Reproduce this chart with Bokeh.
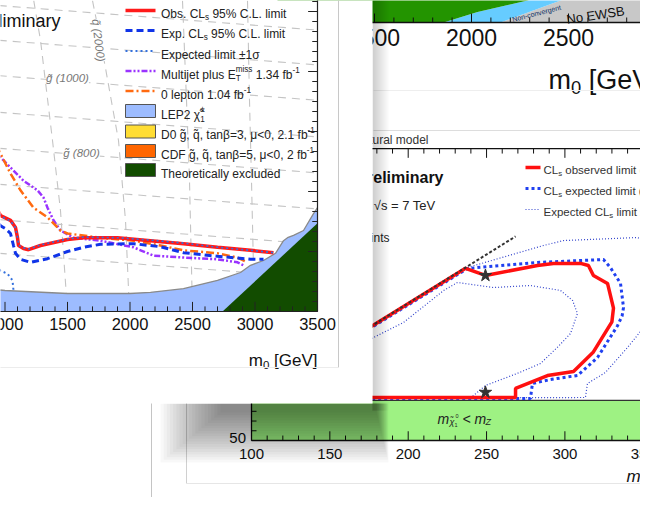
import unicodedata
import numpy as np
from bokeh.plotting import figure
from bokeh.models import Range1d, Label
from bokeh.core.properties import value
from bokeh.embed import file_html
from bokeh.resources import INLINE

FONT = "Liberation Sans"

# ================= DATA =================
# ---- front plot: ATLAS mSUGRA (m0, m1/2) ----
F_xticks = [1000, 1500, 2000, 2500, 3000, 3500]
F_xticklabels = ["1000", "1500", "2000", "2500", "3000", "3500"]
F_obs_m0 = [884, 964, 1044, 1084, 1100, 1108, 1148, 1188, 1284, 1500, 1628, 1900, 2164, 2428, 2700, 2964, 3148]
F_obs_m12 = [293, 260, 252, 240, 223, 210, 205, 203, 210, 220, 223, 223, 218, 213, 207, 202, 198]
F_p1s_m0 = [884, 964, 1044, 1086, 1102, 1110, 1148, 1190, 1284, 1500, 1628, 1900, 2164, 2428, 2700, 2964, 3150]
F_p1s_m12 = [292, 259, 251, 239, 222, 210, 206, 204, 211, 221, 224, 223, 219, 214, 207, 202, 198]
F_m1s_m0 = [900, 964, 1020, 1060, 1068]
F_m1s_m12 = [182, 168, 163, 152, 135]
F_exp_m0 = [900, 964, 1004, 1044, 1068, 1084, 1124, 1204, 1340, 1500, 1628, 1764, 2028, 2244, 2428, 2700, 2964, 3068]
F_exp_m12 = [260, 243, 238, 230, 210, 197, 187, 182, 188, 200, 207, 212, 213, 208, 198, 192, 187, 187]
F_mj_m0 = [884, 964, 1044, 1148, 1260, 1308, 1340, 1388, 1444, 1548, 1764, 2028, 2188, 2428, 2700, 2860, 2908]
F_mj_m12 = [372, 357, 340, 318, 302, 290, 273, 252, 235, 223, 218, 207, 193, 190, 187, 182, 177]
F_0l_m0 = [884, 964, 1044, 1124, 1228, 1340, 1444, 1500, 1764, 2028, 2244, 2428, 2700, 2860, 2940]
F_0l_m12 = [402, 363, 330, 302, 273, 257, 235, 230, 223, 218, 210, 202, 197, 190, 182]
F_lep_m0 = [900, 1000, 1500, 2000, 2164, 2428, 2700, 2884, 2964, 3068, 3164, 3228, 3260, 3308, 3388, 3468, 3500]
F_lep_m12 = [137, 135, 130, 130, 132, 138, 152, 165, 177, 185, 197, 218, 223, 227, 235, 263, 273]
F_th_m0 = [2740, 3500, 3500]
F_th_m12 = [100, 247, 100]
# gluino iso-mass lines (end points)
F_gl_names = ["1200", "1100", "1000", "900", "800", "700", "600", "500"]
F_gl_m0 = [[950, 3500]] * 8
F_gl_m12 = [[610, 569], [552, 511], [493, 452], [432, 391], [372, 331], [312, 271], [253, 212], [197, 156]]
# squark iso-mass lines
F_sq_names = ["1500", "2000", "2500", "3000"]
F_sq_m0 = [[1230, 1284, 1380, 1444, 1500], [1700, 1764, 1908, 1964, 1996], [2420, 2452, 2476, 2500], [2940, 2956, 2972, 2996]]
F_sq_m12 = [[618, 552, 385, 268, 100], [618, 552, 385, 252, 100], [618, 452, 318, 100], [618, 452, 318, 100]]

# ---- top plot (partially visible) ----
T_xticks = [1500, 2000, 2500, 3000]
T_xticklabels = ["1500", "2000", "2500", "3000"]
T_green_m0 = [1856, 2031, 2289, 2400]
T_green_v = [100, 121, 144, 160]
T_blue_m0 = [2149, 2459, 2560]
T_blue_v = [100, 144, 160]

# ---- right plot: natural model ----
R_xticks = [100, 150, 200, 250, 300, 350]
R_xticklabels = ["100", "150", "200", "250", "300", "350"]
R_yticks = [50]
R_yticklabels = ["50"]
R_mZ = 91.2
R_obs_x = [103, 236.6, 249.3, 282.5, 292.7, 310.0, 315.0, 318.2, 327.2, 331.0, 330.0, 318.2, 305.5, 288.9, 268.5, 268.5, 103]
R_obs_y = [94.2, 227.0, 219.6, 229.9, 231.9, 232.0, 229.9, 219.6, 211.4, 186.0, 172.0, 141.0, 121.0, 116.8, 103.5, 94.2, 94.2]
R_exp_x = [103, 237.8, 282.5, 324.6, 329.0, 335.5, 337.4, 336.5, 333.6, 320.8, 308.0, 290.8, 279.3, 278.0, 103]
R_exp_y = [93.2, 226.8, 233.0, 236.0, 227.8, 211.4, 186.7, 178.0, 168.0, 135.3, 116.8, 112.7, 108.6, 93.2, 93.2]
R_up_x = [103, 237.8, 286.3, 299.1, 346.3, 358.5, 368, 372, 368, 358.5, 350.2, 340.0, 325.9, 314.4, 313.1, 103]
R_up_y = [93, 227.8, 250.4, 255.5, 258.6, 250.4, 235, 210, 190, 180.5, 166.0, 145.6, 119.9, 108.6, 94.2, 93]
R_dn_x = [110, 177.9, 197.0, 222.5, 231.5, 254.4, 278.0, 297.2, 304.9, 308.0, 303.6, 296.0, 284.4, 269.7, 249.3, 240.0, 110]
R_dn_y = [94, 155.9, 171.3, 204.0, 212.4, 207.2, 209.3, 204.2, 193.9, 180.5, 160.0, 147.0, 129.1, 119.0, 106.5, 94.0, 94]
R_kin_x = [100, 268.5]
R_kin_y = [91, 259.7]
R_star_x = [249.3, 249.3]
R_star_y = [219.6, 99.5]

# ================= helpers =================
X0, X1, YB, YT = 0, 640, 497, 0   # visible window in reference pixels


def xr(v0, p0, s):
    return Range1d(v0 + (X0 - p0) / s, v0 + (X1 - p0) / s)


def yr(v0, p0, s):
    return Range1d(v0 - (YB - p0) / s, v0 + (p0 - YT) / s)


p = figure(width=640, height=497, x_range=Range1d(X0, X1), y_range=Range1d(YB, YT),
           output_backend="svg", toolbar_location=None, min_border=0, title=None,
           x_axis_location=None, y_axis_location=None)
p.grid.visible = False
p.outline_line_color = None
p.background_fill_color = "white"
p.border_fill_color = "white"

p.extra_x_ranges = {"F": xr(1000, 4.5, 0.125), "T": xr(2000, 471, 0.194), "R": xr(100, 251, 1.567)}
p.extra_y_ranges = {"F": yr(100, 311, 0.6), "T": yr(100, 22, 0.5), "R": yr(50, 440, 0.973)}

W = {}
for c in "0123456789": W[c] = 556
W.update({" ": 278, ".": 278, ",": 278, "(": 333, ")": 333, "-": 333, "%": 889, "=": 584, "<": 584,
          ">": 584, "[": 278, "]": 278, "±": 584, "β": 570, "μ": 576, "σ": 600, "χ": 540, "√": 549})
for c, w in zip("ABCDEFGHIJKLMNOPQRSTUVWXYZ",
                [667, 667, 722, 722, 667, 611, 778, 722, 278, 500, 667, 556, 833, 722, 778, 667, 778, 722, 667, 611, 722, 667, 944, 667, 667, 611]):
    W[c] = w
for c, w in zip("abcdefghijklmnopqrstuvwxyz",
                [556, 556, 500, 556, 556, 278, 556, 556, 222, 222, 500, 222, 833, 556, 556, 556, 556, 333, 500, 278, 556, 500, 722, 500, 500, 500]):
    W[c] = w


def tw(s, size):
    return sum(0 if unicodedata.combining(c) else W.get(c, 556) for c in s) * size / 1000.0


def txt(x, y, s, size, color="#222222", align="left", baseline="alphabetic", style="normal", angle=0, rn="default"):
    p.text(x=[x], y=[y], text=[s], x_range_name=rn, y_range_name=rn, text_font=value(FONT),
           text_font_size=f"{size}px", text_color=color, text_align=align, text_baseline=baseline,
           text_font_style=style, angle=angle)


def piece(x, y, s, size, color, style):
    lead = len(s) - len(s.lstrip(" "))
    x += tw(" " * lead, size)
    body = s.strip(" ")
    if body:
        txt(x, y, body, size, color, style=style)
    return x + tw(s[lead:], size)


def rich(x, yc, parts, size, color="#222222", style="normal"):
    base = yc + 0.33 * size
    for part in parts:
        if isinstance(part, str):
            x = piece(x, base, part, size, color, style)
        else:
            kind = part[0]
            s2 = size * 0.68
            if kind == "sub":
                x = piece(x, base + 0.28 * size, part[1], s2, color, style)
            elif kind == "sup":
                x = piece(x, base - 0.42 * size, part[1], s2, color, style)
            else:  # stacked sup + sub
                xa = piece(x, base - 0.42 * size, part[1], s2, color, style)
                xb = piece(x, base + 0.3 * size, part[2], s2, color, style)
                x = max(xa, xb)
    return x


def hline(x0, x1, y, color, width=1.0):
    p.segment(x0=[x0], y0=[y], x1=[x1], y1=[y], line_color=color, line_width=width)


def vline(x, y0, y1, color, width=1.0):
    p.segment(x0=[x], y0=[y0], x1=[x], y1=[y1], line_color=color, line_width=width)


# ================= TOP PLOT (background) =================
gray_x = [T_blue_m0[0], 3700, 3700] + T_blue_m0[::-1]
gray_y = [T_blue_v[0], T_blue_v[0], T_blue_v[-1]] + T_blue_v[::-1]
p.patch(gray_x, gray_y, x_range_name="T", y_range_name="T", fill_color="#c8c8c8", line_color=None)
blue_x = T_green_m0 + T_blue_m0[::-1]
blue_y = T_green_v + T_blue_v[::-1]
p.patch(blue_x, blue_y, x_range_name="T", y_range_name="T", fill_color="#66ccff", line_color=None)
green_x = [1000] + T_green_m0 + [1000]
green_y = [100] + T_green_v + [160]
p.patch(green_x, green_y, x_range_name="T", y_range_name="T", fill_color="#239400", line_color=None)
txt(512, 19, "Non-convergent", 7, "#113366", angle=0.25)
txt(566, 19, "No EWSB", 13, "#111111", angle=0.15)
p.segment(x0=[1000], y0=[100], x1=[3700], y1=[100], x_range_name="T", y_range_name="T", line_color="#111111", line_width=1.5)
tmin = np.arange(1000, 3700, 100)
tlen = np.where(tmin % 500 == 0, 18, 10)
p.segment(x0=tmin, y0=100, x1=tmin, y1=100 + tlen, x_range_name="T", y_range_name="T", line_color="#111111", line_width=1)
p.text(x=T_xticks, y=[71] * len(T_xticks), text=T_xticklabels, x_range_name="T", y_range_name="T",
       text_font=value(FONT), text_font_size="23px", text_align="center", text_baseline="middle", text_color="#111111")
rich(548, 71, ["m", ("sub", "0"), " [GeV]"], 27, "#111111")
hline(373, 660, 90, "#eeeeee")

# ================= RIGHT PLOT (background) =================
hline(373, 660, 130, "#dddddd")
txt(428, 139, "Simplified natural model", 12, "#333333", align="right", baseline="middle")
vline(151, 95, 520, "#c4c4c4")
vline(186, 140, 483, "#d0d0d0")
hline(186, 660, 483, "#e6e6e6")

p.quad(left=[100], right=[420], bottom=[50], top=[R_mZ], x_range_name="R", y_range_name="R",
       fill_color="#9ef283", line_color=None)
p.segment(x0=[100], y0=[R_mZ], x1=[420], y1=[R_mZ], x_range_name="R", y_range_name="R", line_color="#333333", line_width=1.2)
txt(437, 418, "m", 14, "#222222", style="italic")
txt(449, 421, "χ̃", 9, "#222222", style="italic")
txt(454, 424, "1", 5.5, "#222222")
txt(455, 415, "0", 5.5, "#222222")
txt(462, 418, "< m", 14, "#222222", style="italic")
txt(485, 421, "Z", 9, "#222222", style="italic")

p.line(R_up_x, R_up_y, x_range_name="R", y_range_name="R", line_color="#3344cc", line_width=1.2, line_dash="1 2")
p.line(R_dn_x, R_dn_y, x_range_name="R", y_range_name="R", line_color="#3344cc", line_width=1.2, line_dash="1 2")
p.line(R_exp_x, R_exp_y, x_range_name="R", y_range_name="R", line_color="#2040f0", line_width=3, line_dash="3 3")
p.line(R_obs_x, R_obs_y, x_range_name="R", y_range_name="R", line_color="#ff1010", line_width=3.5)
p.line(R_kin_x, R_kin_y, x_range_name="R", y_range_name="R", line_color="#333333", line_width=2, line_dash="3 2")
p.scatter(R_star_x, R_star_y, x_range_name="R", y_range_name="R", marker="star", size=13, color="#333333")

# frame + ticks
p.segment(x0=[100, 100, 100], y0=[50, 350, 50], x1=[420, 420, 100], y1=[50, 350, 350],
          x_range_name="R", y_range_name="R", line_color="#111111", line_width=1.3)
rx = np.arange(100, 420, 10)
rl = np.where(rx % 50 == 0, 9.5, 5.1)
p.segment(x0=rx, y0=50, x1=rx, y1=50 + rl, x_range_name="R", y_range_name="R", line_color="#111111", line_width=1)
p.segment(x0=rx, y0=350, x1=rx, y1=350 - rl, x_range_name="R", y_range_name="R", line_color="#111111", line_width=1)
ry = np.arange(50, 351, 10)
rly = np.where(ry % 50 == 0, 6.0, 3.2)
p.segment(x0=100, y0=ry, x1=100 + rly, y1=ry, x_range_name="R", y_range_name="R", line_color="#111111", line_width=1)
p.text(x=R_xticks, y=[36.6] * len(R_xticks), text=R_xticklabels, x_range_name="R", y_range_name="R",
       text_font=value(FONT), text_font_size="15px", text_align="center", text_baseline="middle", text_color="#111111")
p.text(x=[96.5] * len(R_yticks), y=[52.5], text=R_yticklabels, x_range_name="R", y_range_name="R",
       text_font=value(FONT), text_font_size="15px", text_align="right", text_baseline="middle", text_color="#111111")
txt(626, 476, "m", 17, "#111111", style="italic")

# texts / legend of right plot
txt(443, 177, "ATLAS Preliminary", 16, "#111111", align="right", style="bold")
txt(435, 205, "√s = 7 TeV", 13, "#222222", align="right")
txt(389, 237, "Reference points", 12, "#222222", align="right")
p.segment(x0=[525], y0=[167], x1=[540], y1=[167], line_color="#ff1010", line_width=3.5)
p.segment(x0=[525], y0=[188], x1=[540], y1=[188], line_color="#2040f0", line_width=3, line_dash="3 3")
p.segment(x0=[525], y0=[209], x1=[540], y1=[209], line_color="#3344cc", line_width=1.2, line_dash="1 2")
rich(543, 166, ["CL", ("sub", "s"), " observed limit (95% C.L.)"], 11.5, "#333333")
rich(543, 187, ["CL", ("sub", "s"), " expected limit (95% C.L.)"], 11.5, "#333333")
rich(543, 208, ["Expected CL", ("sub", "s"), " limit ±1σ"], 11.5, "#333333")

# ================= SHADOWS of the front panel =================
for k in range(20):
    t = k / 19.0
    p.quad(left=[160 + 60 * t], right=[388 - 12 * t], top=[403], bottom=[462 - 50 * t],
           fill_color="black", fill_alpha=0.028, line_color=None)
for k in range(8):
    p.quad(left=[372], right=[388 - 2 * k], top=[0], bottom=[410], fill_color="black", fill_alpha=0.024, line_color=None)

# ================= FRONT PANEL =================
p.quad(left=[-5], right=[372], top=[-5], bottom=[403], fill_color="white", line_color=None)

# iso-mass lines
for xs, ys in zip(F_gl_m0, F_gl_m12):
    p.line(xs, ys, x_range_name="F", y_range_name="F", line_color="#c4c4c4", line_width=1.1, line_dash="8 6")
for xs, ys in zip(F_sq_m0, F_sq_m12):
    p.line(xs, ys, x_range_name="F", y_range_name="F", line_color="#c4c4c4", line_width=1.1, line_dash="8 6")

# excluded regions
p.patch(F_lep_m0 + [3500, 900], F_lep_m12 + [100, 100], x_range_name="F", y_range_name="F",
        fill_color="#9dbcff", line_color=None)
p.line(F_lep_m0, F_lep_m12, x_range_name="F", y_range_name="F", line_color="#8a8a8a", line_width=1.3)
p.patch(F_th_m0, F_th_m12, x_range_name="F", y_range_name="F", fill_color="#124c00", line_color=None)

# limit curves
p.line(F_mj_m0, F_mj_m12, x_range_name="F", y_range_name="F", line_color="#9a33ff", line_width=2.5, line_dash="6 2 2 2 2 2")
p.line(F_0l_m0, F_0l_m12, x_range_name="F", y_range_name="F", line_color="#ff6a10", line_width=2.5, line_dash="8 3 2 3")
p.line(F_exp_m0, F_exp_m12, x_range_name="F", y_range_name="F", line_color="#1034e8", line_width=3, line_dash="7 4")
p.line(F_m1s_m0, F_m1s_m12, x_range_name="F", y_range_name="F", line_color="#3370dd", line_width=2, line_dash="2 3")
p.line(F_obs_m0, F_obs_m12, x_range_name="F", y_range_name="F", line_color="#ff1a1a", line_width=3.5)
p.line(F_p1s_m0, F_p1s_m12, x_range_name="F", y_range_name="F", line_color="#3370dd", line_width=1.6, line_dash="2 3")

# frame and ticks
p.segment(x0=[800, 3500], y0=[100, 100], x1=[3500, 3500], y1=[100, 700], x_range_name="F", y_range_name="F",
          line_color="#222222", line_width=1.2)
fx = np.arange(900, 3501, 100)
fl = np.where(fx % 500 == 0, 16, 8.5)
p.segment(x0=fx, y0=100, x1=fx, y1=100 + fl, x_range_name="F", y_range_name="F", line_color="#222222", line_width=1)
fy = 100 + np.arange(0, 33) * 50.0 / 3.0
fly = np.where(np.arange(0, 33) % 6 == 0, 75, 42)
p.segment(x0=3500, y0=fy, x1=3500 - fly, y1=fy, x_range_name="F", y_range_name="F", line_color="#222222", line_width=1)
p.text(x=F_xticks, y=[80] * len(F_xticks), text=F_xticklabels, x_range_name="F", y_range_name="F",
       text_font=value(FONT), text_font_size="16.5px", text_align="center", text_baseline="middle", text_color="#111111")
w_title = tw("m", 17) + tw("0", 17 * 0.68) + tw(" [GeV]", 17)
rich(317 - w_title, 354, ["m", ("sub", "0"), " [GeV]"], 17, "#111111")

# "Preliminary"
txt(60, 20, "ATLAS Preliminary", 18, "#111111", align="right")

# legend
LX0, LX1, TX = 125, 155, 160.5
rows = [10, 30, 50.5, 70.5, 90.5, 110.5, 131, 150.5, 169.5]
p.segment(x0=[LX0], y0=[rows[0]], x1=[LX1], y1=[rows[0]], line_color="#ff1a1a", line_width=3.5)
p.segment(x0=[LX0], y0=[rows[1]], x1=[LX1], y1=[rows[1]], line_color="#1034e8", line_width=3, line_dash="7 4")
p.segment(x0=[LX0], y0=[rows[2]], x1=[LX1], y1=[rows[2]], line_color="#3370dd", line_width=2, line_dash="2 3")
p.segment(x0=[LX0], y0=[rows[3]], x1=[LX1], y1=[rows[3]], line_color="#9a33ff", line_width=2.5, line_dash="6 2 2 2 2 2")
p.segment(x0=[LX0], y0=[rows[4]], x1=[LX1], y1=[rows[4]], line_color="#ff6a10", line_width=2.5, line_dash="8 3 2 3")
box_colors = ["#9dbcff", "#ffdd33", "#ff6600", "#124c00"]
for r, c in zip(rows[5:], box_colors):
    p.quad(left=[LX0], right=[LX1], top=[r - 6.5], bottom=[r + 6.5], fill_color=c, line_color="#555555", line_width=1)
LS = 12
rich(TX, rows[0], ["Obs. CL", ("sub", "s"), " 95% C.L. limit"], LS)
rich(TX, rows[1], ["Exp. CL", ("sub", "s"), " 95% C.L. limit"], LS)
rich(TX, rows[2], ["Expected limit ±1σ"], LS)
rich(TX, rows[3], ["Multijet plus E", ("ss", "miss", "T"), " 1.34 fb", ("sup", "-1")], LS)
rich(TX, rows[4], ["0 lepton 1.04 fb", ("sup", "-1")], LS)
rich(TX, rows[5], ["LEP2 χ̃", ("ss", "±", "1")], LS)
rich(TX, rows[6], ["D0 g̃, q̃, tanβ=3, μ<0, 2.1 fb", ("sup", "-1")], LS)
rich(TX, rows[7], ["CDF g̃, q̃, tanβ=5, μ<0, 2 fb", ("sup", "-1")], LS)
rich(TX, rows[8], ["Theoretically excluded"], LS)

# iso-mass labels
for (xv, yv, s, ang) in [(1500, 489, "g̃ (1000)", 0.0), (1612, 365, "g̃ (800)", 0.0), (1748, 552, "q̃ (2000)", -1.45)]:
    p.add_layout(Label(x=xv, y=yv, x_range_name="F", y_range_name="F", text=s, angle=ang,
                       text_font=FONT, text_font_size="11.5px", text_font_style="italic",
                       text_color="#777777", text_align="center", text_baseline="middle",
                       background_fill_color="white"))

# panel inner borders
vline(338, -5, 367, "#c8c8c8")
hline(-5, 338, 367, "#ececec")

open("out.html", "w").write(file_html(p, INLINE))
